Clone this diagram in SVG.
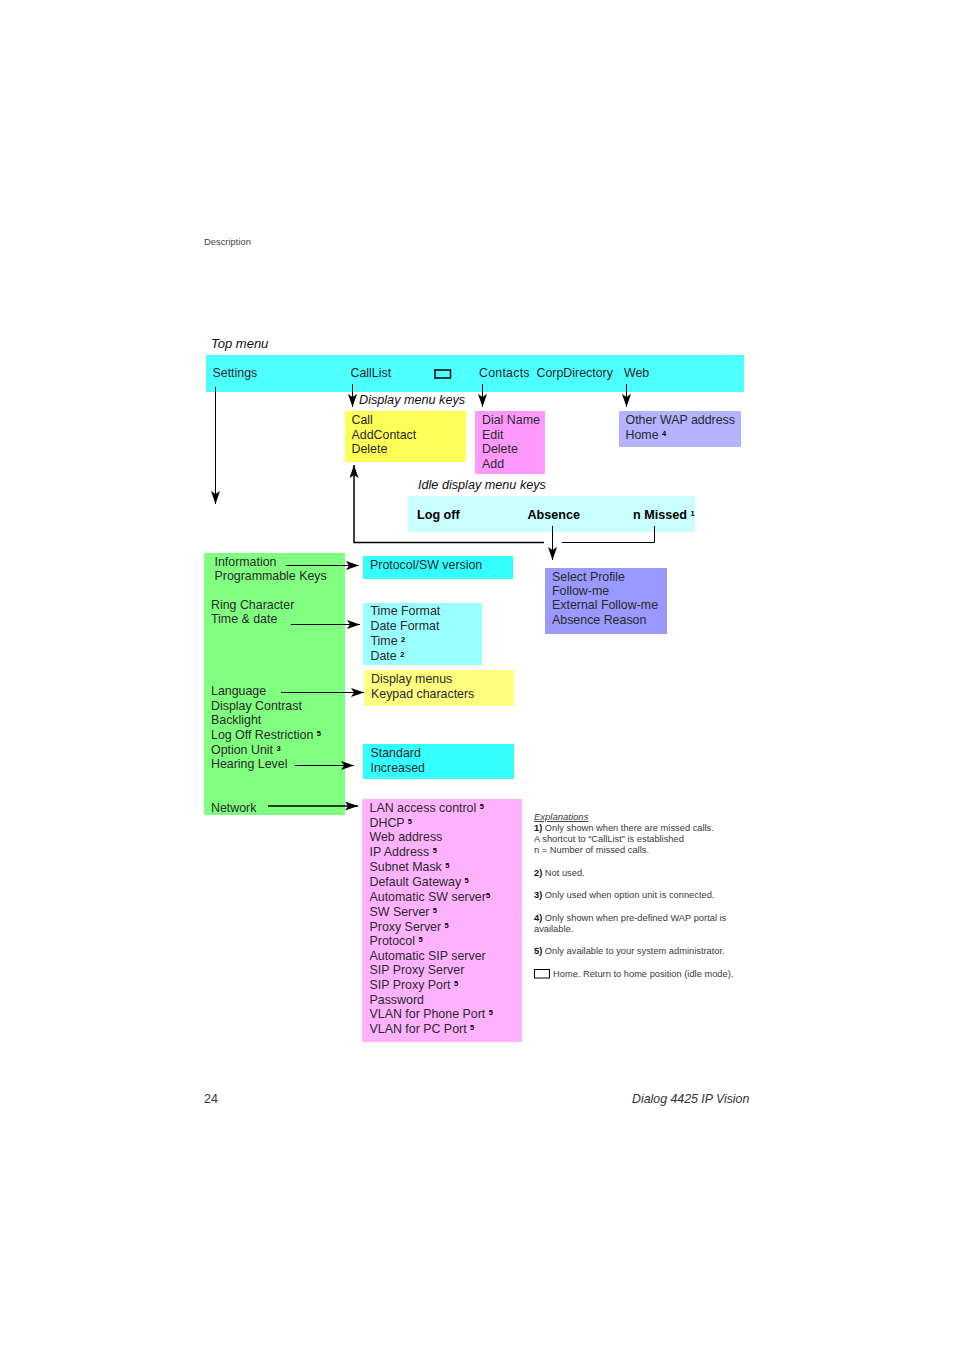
<svg xmlns="http://www.w3.org/2000/svg" width="954" height="1350" viewBox="0 0 954 1350">
<style>
text{font-family:"Liberation Sans",Arial,sans-serif;fill:#2a2a2a}
.m{font-size:12.4px}
.i{font-size:12.65px;font-style:italic;fill:#111}
.b{font-size:12.6px;font-weight:bold;fill:#000}
.s{font-size:9.3px;fill:#3a3a3a}
.sb{font-weight:bold;fill:#111}
.u{font-size:7.5px;font-weight:bold;fill:#000}
.h{font-size:9.4px;fill:#444}
.c{fill:none;stroke:#000;stroke-width:1}
</style>
<defs>
<marker id="a" markerUnits="userSpaceOnUse" markerWidth="14" markerHeight="10" refX="13" refY="4.500" orient="auto"><path d="M0 0L13 4.500L0 9L3 4.500Z" fill="#000"/></marker>
</defs>
<text class="h" x="204" y="245">Description</text>
<text class="i" x="211" y="348" style="font-size:13px">Top menu</text>
<g id="top-menu">
<rect x="206" y="355" width="538" height="37" fill="#4dffff"/>
<text class="m" x="212.500" y="377">Settings</text>
<text class="m" x="350.500" y="377">CallList</text>
<rect x="435" y="370" width="15.500" height="8" fill="none" stroke="#000" stroke-width="1.500"/>
<text class="m" x="479" y="377" textLength="50.500">Contacts</text>
<text class="m" x="536.500" y="377">CorpDirectory</text>
<text class="m" x="624" y="377">Web</text>
</g>
<text class="i" x="359" y="404">Display menu keys</text>
<g id="calllist-menu">
<rect x="345" y="411" width="121" height="51" fill="#ffff59"/>
<text class="m" x="351.500" y="424">Call</text>
<text class="m" x="351.500" y="439">AddContact</text>
<text class="m" x="351.500" y="453">Delete</text>
</g>
<g id="contacts-menu">
<rect x="475" y="411" width="70" height="63" fill="#ff99ff"/>
<text class="m" x="482" y="424">Dial Name</text>
<text class="m" x="482" y="439">Edit</text>
<text class="m" x="482" y="453">Delete</text>
<text class="m" x="482" y="468">Add</text>
</g>
<g id="web-menu">
<rect x="619" y="411" width="122" height="36" fill="#b3b3ff"/>
<text class="m" x="625.500" y="424">Other WAP address</text>
<text class="m" x="625.500" y="439">Home <tspan class="u" dy="-3">4</tspan></text>
</g>
<text class="i" x="418" y="489">Idle display menu keys</text>
<g id="idle-keys">
<rect x="408" y="496" width="287" height="36" fill="#c9ffff"/>
<text class="b" x="417" y="519">Log off</text>
<text class="b" x="527.500" y="519">Absence</text>
<text class="b" x="633" y="519">n Missed <tspan class="u" dy="-3">1</tspan></text>
</g>
<g id="absence-menu">
<rect x="545" y="568" width="122" height="66" fill="#9999ff"/>
<text class="m" x="552" y="581">Select Profile</text>
<text class="m" x="552" y="595">Follow-me</text>
<text class="m" x="552" y="609">External Follow-me</text>
<text class="m" x="552" y="624">Absence Reason</text>
</g>
<g id="settings-menu">
<rect x="204" y="553" width="141" height="262" fill="#80ff80"/>
<text class="m" x="214.500" y="566">Information</text>
<text class="m" x="214.500" y="580">Programmable Keys</text>
<text class="m" x="211" y="609">Ring Character</text>
<text class="m" x="211" y="623">Time &amp; date</text>
<text class="m" x="211" y="695">Language</text>
<text class="m" x="211" y="710">Display Contrast</text>
<text class="m" x="211" y="724">Backlight</text>
<text class="m" x="211" y="739">Log Off Restriction <tspan class="u" dy="-3">5</tspan></text>
<text class="m" x="211" y="754">Option Unit <tspan class="u" dy="-3">3</tspan></text>
<text class="m" x="211" y="768">Hearing Level</text>
<text class="m" x="211" y="812">Network</text>
</g>
<g id="information-menu">
<rect x="363" y="556" width="150" height="23" fill="#33ffff"/>
<text class="m" x="370" y="569">Protocol/SW version</text>
</g>
<g id="time-menu">
<rect x="363" y="603" width="119" height="62" fill="#99ffff"/>
<text class="m" x="370.500" y="615">Time Format</text>
<text class="m" x="370.500" y="630">Date Format</text>
<text class="m" x="370.500" y="645">Time <tspan class="u" dy="-3">2</tspan></text>
<text class="m" x="370.500" y="660">Date <tspan class="u" dy="-3">2</tspan></text>
</g>
<g id="language-menu">
<rect x="364" y="670" width="150" height="36" fill="#ffff80"/>
<text class="m" x="371" y="683">Display menus</text>
<text class="m" x="371" y="698">Keypad characters</text>
</g>
<g id="hearing-menu">
<rect x="363" y="744" width="151" height="35" fill="#33ffff"/>
<text class="m" x="370.500" y="757">Standard</text>
<text class="m" x="370.500" y="772">Increased</text>
</g>
<g id="network-menu">
<rect x="362" y="799" width="160" height="243" fill="#ffb3ff"/>
<text class="m" x="369.500" y="812">LAN access control <tspan class="u" dy="-3">5</tspan></text>
<text class="m" x="369.500" y="827">DHCP <tspan class="u" dy="-3">5</tspan></text>
<text class="m" x="369.500" y="841">Web address</text>
<text class="m" x="369.500" y="856">IP Address <tspan class="u" dy="-3">5</tspan></text>
<text class="m" x="369.500" y="871">Subnet Mask <tspan class="u" dy="-3">5</tspan></text>
<text class="m" x="369.500" y="886">Default Gateway <tspan class="u" dy="-3">5</tspan></text>
<text class="m" x="369.500" y="901">Automatic SW server<tspan class="u" dy="-3">5</tspan></text>
<text class="m" x="369.500" y="916">SW Server <tspan class="u" dy="-3">5</tspan></text>
<text class="m" x="369.500" y="931">Proxy Server <tspan class="u" dy="-3">5</tspan></text>
<text class="m" x="369.500" y="945">Protocol <tspan class="u" dy="-3">5</tspan></text>
<text class="m" x="369.500" y="960">Automatic SIP server</text>
<text class="m" x="369.500" y="974">SIP Proxy Server</text>
<text class="m" x="369.500" y="989">SIP Proxy Port <tspan class="u" dy="-3">5</tspan></text>
<text class="m" x="369.500" y="1004">Password</text>
<text class="m" x="369.500" y="1018">VLAN for Phone Port <tspan class="u" dy="-3">5</tspan></text>
<text class="m" x="369.500" y="1033">VLAN for PC Port <tspan class="u" dy="-3">5</tspan></text>
</g>
<g id="connectors">
<path class="c" d="M215.500 387V504" marker-end="url(#a)"/>
<path class="c" d="M352.500 384V407" marker-end="url(#a)"/>
<path class="c" d="M482.500 384V407" marker-end="url(#a)"/>
<path class="c" d="M626.500 384V407" marker-end="url(#a)"/>
<path class="c" d="M544 542.500H354V465" style="stroke-width:1.500" marker-end="url(#a)"/>
<path class="c" d="M654.500 526V542.500H562"/>
<path class="c" d="M552.500 526V560" marker-end="url(#a)"/>
<path class="c" d="M286 565.500H359" marker-end="url(#a)"/>
<path class="c" d="M291 624.500H360" marker-end="url(#a)"/>
<path class="c" d="M281 692.500H364" marker-end="url(#a)"/>
<path class="c" d="M295 765.500H354" marker-end="url(#a)"/>
<path class="c" d="M268 806H358" style="stroke-width:1.500" marker-end="url(#a)"/>
</g>
<g id="explanations">
<text class="s" x="534" y="820" font-style="italic" text-decoration="underline" style="font-size:9.500px">Explanations</text>
<text class="s" x="534" y="831"><tspan class="sb">1)</tspan> Only shown when there are missed calls.</text>
<text class="s" x="534" y="842">A shortcut to “CallList” is established</text>
<text class="s" x="534" y="853">n = Number of missed calls.</text>
<text class="s" x="534" y="876"><tspan class="sb">2)</tspan> Not used.</text>
<text class="s" x="534" y="898"><tspan class="sb">3)</tspan> Only used when option unit is connected.</text>
<text class="s" x="534" y="921"><tspan class="sb">4)</tspan> Only shown when pre-defined WAP portal is</text>
<text class="s" x="534" y="932">available.</text>
<text class="s" x="534" y="954"><tspan class="sb">5)</tspan> Only available to your system administrator.</text>
<rect x="534.500" y="969.500" width="15" height="8.500" fill="none" stroke="#000" stroke-width="1"/>
<text class="s" x="553" y="977">Home. Return to home position (idle mode).</text>
</g>
<text x="204" y="1103" style="font-size:12.500px;fill:#333">24</text>
<text x="632" y="1103" style="font-size:12.350px;font-style:italic;fill:#333">Dialog 4425 IP Vision</text>
</svg>
